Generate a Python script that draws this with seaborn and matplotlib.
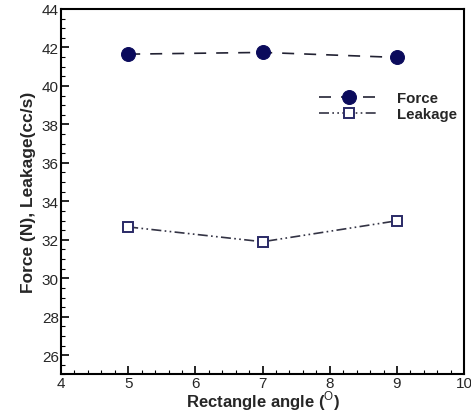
import matplotlib
matplotlib.use("Agg")
import matplotlib.pyplot as plt
import seaborn as sns
import pandas as pd
from matplotlib.ticker import MultipleLocator

angles = [5, 7, 9]
force = [41.65, 41.74, 41.48]
leakage = [32.67, 31.90, 32.99]
series_names = ["Force", "Leakage"]

sns.set_theme(style="white")
plt.rcParams['font.family'] = ['Liberation Sans', 'DejaVu Sans']
plt.rcParams['mathtext.fontset'] = 'custom'
plt.rcParams['mathtext.rm'] = 'Liberation Sans'

fig = plt.figure(figsize=(4.71, 4.14), dpi=100)
ax = fig.add_axes([0.1295, 0.093, 0.856, 0.883])

navy = "#0b0b5c"
df_f = pd.DataFrame({"angle": angles, "value": force})
df_l = pd.DataFrame({"angle": angles, "value": leakage})

sns.lineplot(data=df_f, x="angle", y="value", ax=ax, color="#222233",
             linestyle=(0, (7.2, 6)), linewidth=1.2, marker="o", markersize=10,
             markerfacecolor=navy, markeredgecolor=navy, label=series_names[0])
sns.lineplot(data=df_l, x="angle", y="value", ax=ax, color="#333344",
             linestyle=(0, (6, 2, 1, 2, 1, 2)), linewidth=1.2, marker="s", markersize=7.5,
             markerfacecolor="white", markeredgecolor="#2a2a66", markeredgewidth=1.4,
             label=series_names[1])

ax.set_xlim(4, 10)
ax.set_ylim(25, 44)
ax.xaxis.set_major_locator(MultipleLocator(1))
ax.xaxis.set_minor_locator(MultipleLocator(0.2))
ax.yaxis.set_minor_locator(MultipleLocator(0.5))
ax.set_yticks([26, 28, 30, 32, 34, 36, 38, 40, 42, 44])
ax.tick_params(which="both", direction="in", top=False, right=False, bottom=True, left=True, color="black")
ax.tick_params(which="major", length=6, width=1.2, labelsize=11, pad=1.5)
ax.tick_params(axis="x", which="major", pad=1)
ax.tick_params(which="minor", length=3, width=0.8)
for s in ax.spines.values():
    s.set_color("black")
    s.set_linewidth(1.5)

ax.set_xlabel("Rectangle angle ($^{\\mathrm{O}}$)", fontsize=12, fontweight="bold", labelpad=-1)
ax.set_ylabel("Force (N), Leakage(cc/s)", fontsize=12.5, fontweight="bold", labelpad=4)

leg = ax.legend(loc="center left", bbox_to_anchor=(319 / 471, 1 - 107 / 414),
                bbox_transform=fig.transFigure, borderaxespad=0, borderpad=0,
                frameon=False, handlelength=4.0, fontsize=10.8, handletextpad=1.2,
                labelspacing=0.1)
for t in leg.get_texts():
    t.set_fontweight("bold")

fig.savefig("out.png", dpi=100)
